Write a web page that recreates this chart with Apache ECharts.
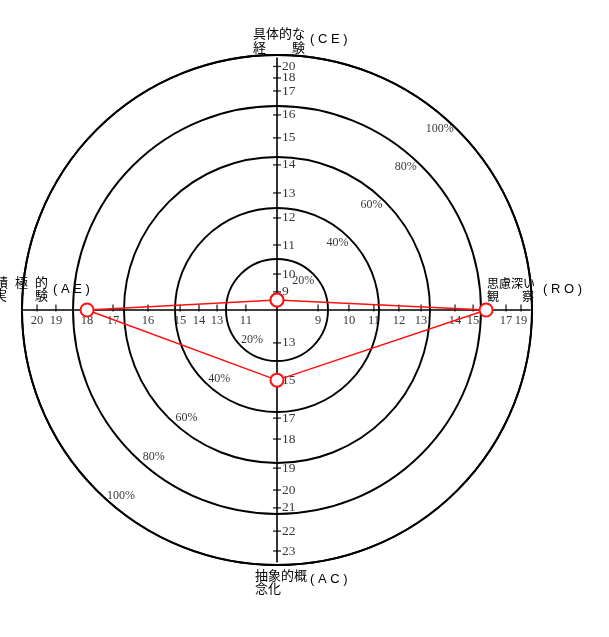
<!DOCTYPE html>
<html><head><meta charset="utf-8">
<script src="https://cdn.jsdelivr.net/npm/echarts@6/dist/echarts.min.js"></script>
<style>html,body{margin:0;padding:0;background:#fff}#c{width:609px;height:637px}</style>
</head><body><div id="c"></div>
<script>
// Percentile rings
const ringPct = [20, 40, 60, 80, 100];
const ringLabels = ['20%', '40%', '60%', '80%', '100%'];
// Axis tick labels (raw scores) and their percentile positions
const ceLabels = ['20', '18', '17', '16', '15', '14', '13', '12', '11', '10', '9'];
const cePos    = [95.5, 91.0, 85.9, 76.5, 67.5, 56.9, 45.9, 36.1, 25.5, 14.1, 7.1];
const acLabels = ['13', '15', '17', '18', '19', '20', '21', '22', '23'];
const acPos    = [12.9, 27.5, 42.4, 50.6, 62.0, 70.6, 77.6, 86.7, 94.5];
const aeLabels = ['20', '19', '18', '17', '16', '15', '14', '13', '11'];
const aePos    = [94.1, 86.7, 74.5, 64.3, 50.6, 38.0, 30.6, 23.5, 12.2];
const roLabels = ['9', '10', '11', '12', '13', '14', '15', '17', '19'];
const roPos    = [16.1, 28.2, 38.0, 47.8, 56.5, 69.8, 76.9, 89.8, 95.7];
// Profile (percentile on each axis)
const profileAxes = ['CE', 'RO', 'AC', 'AE'];
const profilePct  = [3.9, 82.0, 27.5, 74.5];

const axisAngle = {CE: 90, RO: 0, AC: 270, AE: 180};
const ink = '#000';
const numFont = 'Liberation Serif';
const jpFont = '"Noto Sans CJK JP"';

function tickSeries(labels, pos, angle, vertical) {
  return {
    type: 'scatter', coordinateSystem: 'polar', silent: true, z: 5,
    symbol: 'rect',
    symbolSize: vertical ? [8, 1.4] : [1.4, 7],
    symbolOffset: vertical ? [0, 0] : [0, -2],
    itemStyle: {color: ink},
    label: {
      show: true,
      position: vertical ? 'right' : 'bottom',
      distance: vertical ? 1 : 3,
      fontFamily: numFont, fontSize: vertical ? 13.5 : 12.5, color: ink,
      formatter: p => labels[p.dataIndex]
    },
    data: pos.map(r => [r, angle])
  };
}

const profileData = profileAxes.map((a, i) => [profilePct[i], axisAngle[a]]);
profileData.push(profileData[0]);

const chart = echarts.init(document.getElementById('c'), null, {renderer: 'canvas'});
chart.setOption({
  backgroundColor: '#fff',
  animation: false,
  polar: {center: [277, 310], radius: 255},
  angleAxis: {
    type: 'value', min: 0, max: 360, startAngle: 0, clockwise: false,
    axisLine: {show: true, lineStyle: {color: ink, width: 1.9}},
    axisTick: {show: false}, axisLabel: {show: false}, splitLine: {show: false}
  },
  radiusAxis: {
    type: 'value', min: 0, max: 100, interval: 20,
    axisLine: {show: false}, axisTick: {show: false}, axisLabel: {show: false},
    splitLine: {show: true, lineStyle: {color: ink, width: 1.9}}
  },
  series: [
    {
      type: 'line', coordinateSystem: 'polar', silent: true, symbol: 'none', z: 3,
      lineStyle: {color: ink, width: 1.6},
      data: [[99, 90], [99, 270]]
    },
    {
      type: 'line', coordinateSystem: 'polar', silent: true, symbol: 'none', z: 3,
      lineStyle: {color: ink, width: 1.6},
      data: [[100, 180], [99.5, 0]]
    },
    tickSeries(ceLabels, cePos, axisAngle.CE, true),
    tickSeries(acLabels, acPos, axisAngle.AC, true),
    tickSeries(aeLabels, aePos, axisAngle.AE, false),
    tickSeries(roLabels, roPos, axisAngle.RO, false),
    {
      type: 'scatter', coordinateSystem: 'polar', silent: true, symbolSize: 0, z: 4,
      label: {show: true, position: 'inside', fontFamily: numFont, fontSize: 12, color: ink,
        formatter: p => ringLabels[p.dataIndex % ringLabels.length]},
      data: ringPct.map(r => [r - 4.6, 48]).concat(ringPct.map(r => [r - 4.8, 230]))
    },
    {
      type: 'line', coordinateSystem: 'polar', silent: true, z: 10,
      symbol: 'emptyCircle', symbolSize: 13,
      lineStyle: {color: '#ff1010', width: 1.5},
      itemStyle: {color: '#ff1010', borderWidth: 1.6},
      data: profileData
    }
  ],
  graphic: [
    {type: 'text', left: 253, top: 27, style: {text: '具体的な', font: '13px ' + jpFont, fill: ink}},
    {type: 'text', left: 253, top: 41, style: {text: '経\u3000\u3000験', font: '13px ' + jpFont, fill: ink}},
    {type: 'text', left: 310, top: 33, style: {text: '( C E )', font: '13px "Liberation Sans"', fill: ink}},

    {type: 'text', left: -5, top: 276, style: {text: '積', font: '13px ' + jpFont, fill: ink}},
    {type: 'text', left: 15, top: 276, style: {text: '極', font: '13px ' + jpFont, fill: ink}},
    {type: 'text', left: 35, top: 276, style: {text: '的', font: '13px ' + jpFont, fill: ink}},
    {type: 'text', left: -6, top: 289, style: {text: '実', font: '13px ' + jpFont, fill: ink}},
    {type: 'text', left: 35, top: 289, style: {text: '験', font: '13px ' + jpFont, fill: ink}},
    {type: 'text', left: 53, top: 283, style: {text: '( A E )', font: '13px "Liberation Sans"', fill: ink}},

    {type: 'text', left: 487, top: 277, style: {text: '思慮深い', font: '12px ' + jpFont, fill: ink}},
    {type: 'text', left: 487, top: 290, style: {text: '観', font: '12px ' + jpFont, fill: ink}},
    {type: 'text', left: 522, top: 290, style: {text: '察', font: '12px ' + jpFont, fill: ink}},
    {type: 'text', left: 543, top: 283, style: {text: '( R O )', font: '13px "Liberation Sans"', fill: ink}},

    {type: 'text', left: 255, top: 569, style: {text: '抽象的概', font: '13px ' + jpFont, fill: ink}},
    {type: 'text', left: 255, top: 582, style: {text: '念化', font: '13px ' + jpFont, fill: ink}},
    {type: 'text', left: 310, top: 573, style: {text: '( A C )', font: '13px "Liberation Sans"', fill: ink}}
  ]
});
</script>
</body></html>
